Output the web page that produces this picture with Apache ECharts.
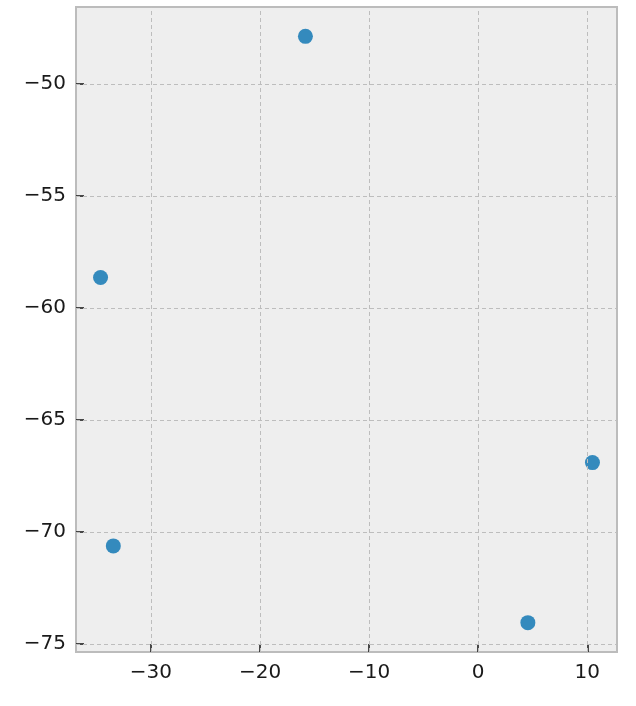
<!DOCTYPE html>
<html>
<head>
<meta charset="utf-8">
<script src="https://cdn.jsdelivr.net/npm/echarts@6/dist/echarts.min.js"></script>
<style>
html,body{margin:0;padding:0;background:#fff;}
#chart{width:636px;height:706px;}
</style>
</head>
<body>
<div id="chart"></div>
<script>
var xValues = [-15.84, -34.62, -33.45, 10.47, 4.55];
var yValues = [-47.86, -58.63, -70.62, -66.90, -74.05];
var xTicks = [-30, -20, -10, 0, 10];
var yTicks = [-75, -70, -65, -60, -55, -50];
var xRange = [-36.87, 12.72];
var yRange = [-75.36, -46.55];

var points = xValues.map(function (x, i) { return [x, yValues[i]]; });
var gridLines = xTicks.map(function (v) { return { xAxis: v }; })
  .concat(yTicks.map(function (v) { return { yAxis: v }; }));
function fmt(v) { return String(v).replace('-', '\u2212'); }

var chart = echarts.init(document.getElementById('chart'), null, { renderer: 'canvas' });
chart.setOption({
  animation: false,
  backgroundColor: '#ffffff',
  grid: {
    left: 76, right: 19, top: 7, bottom: 54,
    show: true, backgroundColor: '#eeeeee', borderColor: '#bcbcbc', borderWidth: 2
  },
  xAxis: {
    type: 'value', min: xRange[0], max: xRange[1],
    axisLine: { show: false, onZero: false },
    splitLine: { show: false },
    axisTick: { show: true, inside: true, length: 8, customValues: xTicks, lineStyle: { color: '#111', width: 1.5 } },
    axisLabel: { customValues: xTicks, formatter: fmt, margin: 11, color: '#1a1a1a', fontSize: 20, fontFamily: 'DejaVu Sans' }
  },
  yAxis: {
    type: 'value', min: yRange[0], max: yRange[1],
    axisLine: { show: false, onZero: false },
    splitLine: { show: false },
    axisTick: { show: true, inside: true, length: 8, customValues: yTicks, lineStyle: { color: '#111', width: 1.5 } },
    axisLabel: { customValues: yTicks, formatter: fmt, margin: 10, color: '#1a1a1a', fontSize: 20, fontFamily: 'DejaVu Sans' }
  },
  series: [
    {
      type: 'scatter', data: [], z: 1, silent: true,
      markLine: {
        silent: true, symbol: ['none', 'none'], label: { show: false },
        lineStyle: { type: [4, 3], color: '#bdbdbd', width: 1 },
        data: gridLines
      }
    },
    {
      type: 'scatter', data: points, z: 3,
      symbol: 'circle', symbolSize: 15,
      itemStyle: { color: '#348ABD', opacity: 1 }
    }
  ]
});
</script>
</body>
</html>
